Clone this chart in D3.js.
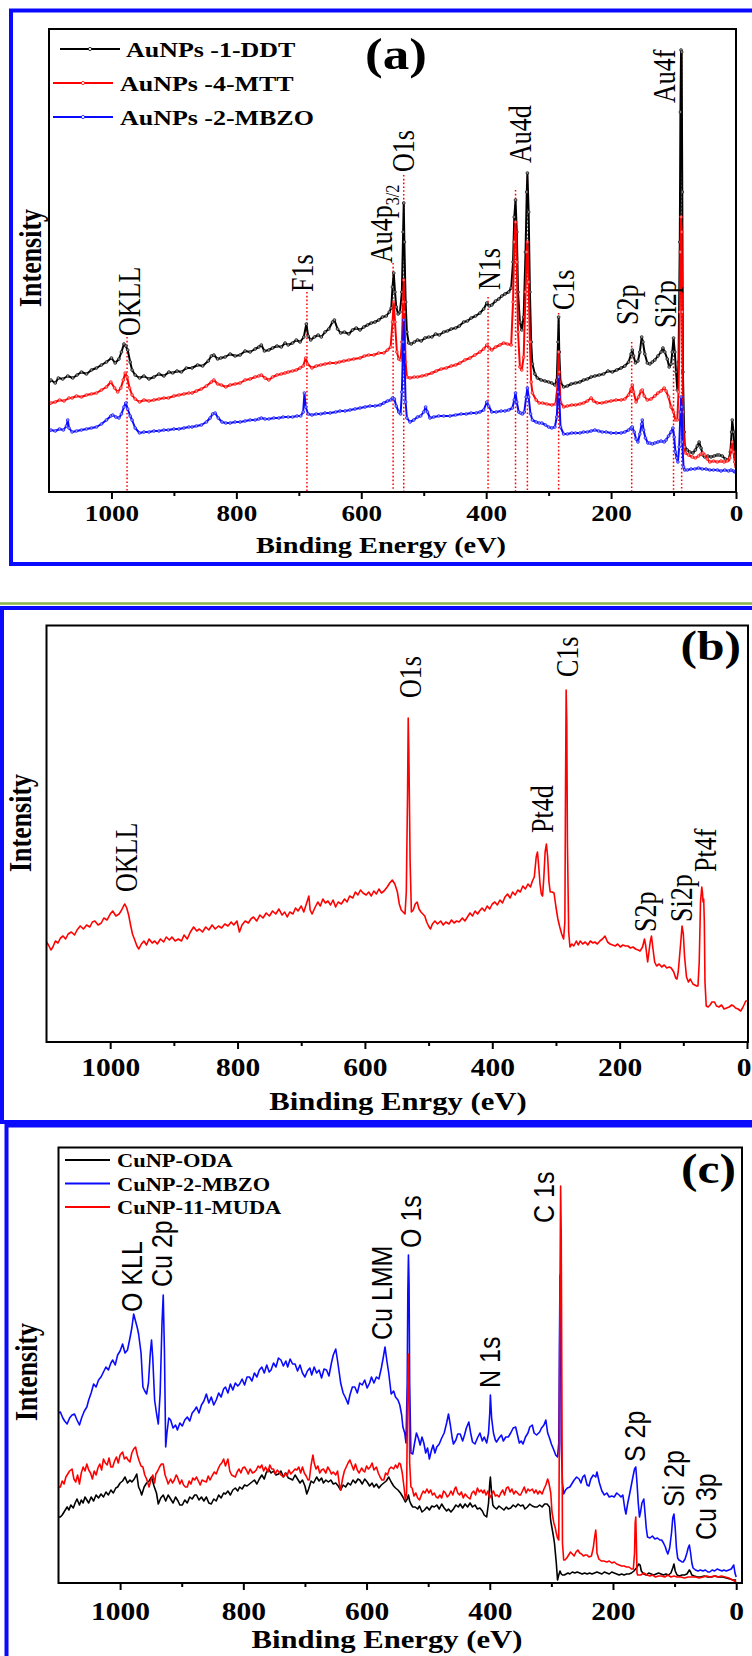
<!DOCTYPE html>
<html><head><meta charset="utf-8">
<script src="https://cdn.jsdelivr.net/npm/d3@7"></script>
<style>html,body{margin:0;padding:0;background:#fff;}svg{display:block;}</style>
</head><body>
<svg id="fig" width="752" height="1656"></svg>
<script>
// ---------- shared axis ticks (binding energy, eV) ----------
const majorTicks = [0, 200, 400, 600, 800, 1000];
const minorTicks = [100, 300, 500, 700, 900];

// ---------- panel (a): Au nanoparticle survey spectra ----------
const aSeriesNames = ["AuNPs -1-DDT", "AuNPs -4-MTT", "AuNPs -2-MBZO"];
const aDDT = [[1100,110],[1097,112],[1090,109],[1085,114],[1078,113],[1070,116],[1062,114],[1055,117],[1048,120],[1040,118],[1032,122],[1024,124],[1016,127],[1008,130],[1000,134],[994,129],[988,133],[984,140],[980,148],[977,146],[974,142],[970,130],[967,122],[962,117],[955,114],[948,116],[940,113],[932,115],[924,118],[916,116],[908,120],[902,119],[895,121],[888,120],[880,124],[871,124],[862,127],[854,126],[845,131],[840,136],[836,137],[830,133],[825,134],[818,135],[810,138],[802,136],[794,137],[786,141],[778,140],[770,143],[764,145],[760,147],[755,141],[748,142],[742,144],[735,146],[728,145],[722,149],[717,147],[710,149],[704,152],[698,150],[692,155],[688,168],[685,156],[681,152],[675,155],[669,157],[664,155],[658,160],[652,163],[646,170],[643,172],[638,163],[633,159],[627,160],[620,158],[614,162],[608,164],[602,162],[596,165],[590,167],[584,169],[578,170],[572,172],[566,175],[560,176],[555,180],[552,184],[550,205],[548,219],[546,200],[544,185],[541,178],[538,180],[535,200],[533,260],[532,289],[531,250],[529,190],[527,160],[524,149],[520,148],[515,150],[510,152],[504,151],[498,154],[492,155],[487,155],[481,158],[475,157],[468,160],[462,161],[456,163],[449,164],[443,166],[436,170],[430,171],[424,174],[417,176],[410,179],[404,183],[399,189],[395,186],[391,187],[385,191],[380,193],[375,196],[370,198],[364,200],[360,204],[357,230],[355,275],[353,292],[351,260],[349,200],[346,170],[343,162],[340,175],[337,240],[335,300],[334,319],[332,280],[330,200],[328,150],[326,128],[322,118],[318,114],[312,112],[306,111],[300,110],[295,109],[290,107],[287,112],[285,150],[284,175],[283,140],[281,110],[276,105],[270,106],[264,108],[257,109],[250,110],[244,112],[238,113],[232,115],[226,116],[219,117],[212,118],[205,121],[198,120],[191,122],[184,124],[178,126],[172,130],[168,138],[166,142],[164,136],[161,129],[157,131],[154,140],[151,155],[149,150],[146,138],[142,129],[138,128],[134,130],[130,132],[125,136],[120,140],[117,144],[114,140],[110,133],[107,125],[104,128],[102,140],[100,154],[98,140],[96,120],[94,102],[92,130],[90,250],[89,380],[88,442],[87,440],[86,300],[85,120],[83,60],[82,45],[78,42],[74,40],[69,39],[65,42],[62,46],[59,50],[56,44],[53,37],[50,35],[45,36],[40,35],[35,36],[30,37],[27,37],[22,36],[17,33],[12,32],[9,40],[7,60],[6,72],[4,60],[2,35],[0,27]];
const aMTT = [[1100,88],[1097,89],[1090,90],[1083,92],[1076,91],[1068,94],[1063,94],[1056,96],[1048,95],[1040,97],[1032,98],[1024,99],[1016,102],[1008,105],[1001,110],[995,104],[990,100],[985,104],[981,112],[978,119],[975,115],[971,104],[967,97],[962,93],[955,90],[948,92],[940,91],[932,92],[924,93],[916,94],[909,94],[900,96],[892,97],[884,98],[876,99],[871,99],[864,101],[856,103],[848,106],[840,110],[836,112],[830,108],[824,107],[817,105],[810,107],[802,108],[794,109],[786,112],[778,113],[770,115],[764,116],[760,117],[754,114],[748,112],[742,115],[735,117],[728,118],[722,119],[717,120],[710,121],[704,122],[698,124],[693,126],[689,134],[686,128],[679,124],[672,126],[665,127],[658,128],[650,129],[641,129],[635,130],[628,131],[620,132],[612,133],[602,134],[595,136],[588,137],[580,137],[572,139],[564,139],[558,142],[553,145],[550,170],[548,190],[546,170],[543,140],[540,133],[537,132],[535,150],[533,190],[532,212],[531,180],[529,130],[527,115],[522,114],[515,115],[510,115],[503,116],[496,117],[487,119],[480,121],[472,123],[464,124],[456,126],[449,127],[442,129],[434,132],[426,134],[418,137],[410,140],[404,143],[399,147],[395,144],[391,142],[385,145],[378,147],[372,149],[366,148],[360,147],[357,190],[355,250],[353,270],[351,230],[349,160],[346,125],[343,122],[340,135],[337,200],[335,240],[334,250],[332,210],[330,150],[328,110],[326,99],[320,92],[315,89],[310,89],[303,88],[295,87],[289,88],[286,105],[284,140],[283,120],[281,90],[276,85],[270,86],[263,87],[257,87],[250,88],[244,89],[238,91],[232,94],[228,91],[222,89],[215,89],[208,90],[200,91],[192,92],[184,92],[178,93],[172,97],[168,103],[166,107],[164,100],[160,90],[156,95],[152,101],[150,102],[147,96],[142,92],[136,93],[130,96],[125,99],[120,101],[115,104],[112,101],[108,95],[104,85],[100,80],[97,72],[94,72],[92,100],[90,180],[89,240],[88,275],[87,260],[86,180],[85,80],[83,45],[81,39],[76,37],[70,35],[65,34],[60,36],[56,38],[53,39],[50,37],[46,33],[42,30],[36,31],[30,30],[24,31],[19,30],[14,31],[10,34],[8,42],[6,50],[4,40],[2,30],[0,25]];
const aMBZO = [[1100,61],[1097,62],[1090,61],[1083,63],[1077,62],[1072,66],[1070,72],[1068,64],[1063,60],[1056,61],[1048,62],[1040,63],[1032,64],[1024,65],[1016,68],[1008,72],[1001,76],[998,77],[993,75],[988,74],[984,78],[980,85],[977,89],[974,83],[970,76],[967,72],[962,64],[955,59],[948,60],[940,60],[932,61],[924,61],[916,62],[909,62],[900,63],[892,63],[884,64],[876,65],[871,65],[864,66],[856,67],[848,70],[842,74],[838,78],[834,79],[829,74],[823,70],[817,69],[810,69],[802,70],[794,70],[786,71],[778,72],[770,72],[764,73],[760,74],[754,73],[748,73],[740,74],[732,74],[725,75],[717,75],[710,75],[703,76],[697,76],[693,80],[691,99],[689,85],[685,78],[679,77],[672,78],[665,78],[658,79],[650,79],[641,80],[634,81],[626,81],[618,82],[610,83],[602,84],[594,85],[586,86],[578,86],[570,87],[564,89],[558,91],[553,92],[550,94],[547,93],[544,86],[540,80],[537,78],[535,100],[533,150],[532,172],[531,140],[529,90],[527,74],[522,70],[516,72],[510,75],[505,76],[500,80],[497,85],[494,80],[490,74],[484,75],[476,76],[468,76],[458,76],[449,77],[440,78],[432,78],[424,79],[416,79],[410,80],[404,82],[399,90],[396,86],[391,80],[384,80],[376,81],[370,81],[364,82],[358,84],[355,92],[353,99],[351,90],[348,80],[345,79],[342,78],[339,80],[336,95],[334,104],[332,95],[329,78],[326,72],[320,70],[315,69],[311,69],[305,67],[300,65],[295,64],[290,65],[287,75],[285,100],[284,115],[283,95],[281,65],[276,58],[270,58],[263,59],[257,59],[250,59],[244,60],[238,60],[232,61],[226,62],[220,61],[214,60],[208,60],[200,59],[192,59],[184,59],[178,60],[172,62],[168,64],[166,65],[163,60],[160,53],[157,50],[154,58],[151,68],[150,72],[148,62],[145,54],[141,49],[138,49],[134,48],[130,49],[125,50],[120,51],[115,50],[112,52],[108,56],[104,60],[101,64],[99,55],[97,40],[95,34],[93,30],[91,45],[89,80],[88,95],[87,85],[86,50],[84,25],[82,22],[78,22],[72,23],[66,23],[60,24],[54,23],[48,23],[42,22],[36,22],[30,22],[24,21],[18,22],[12,21],[8,22],[4,21],[2,20],[0,20]];
// peak assignments: label text, energy of label centre, intensity where label starts
const aPeakLabels = [
  {text:"OKLL", ev:972, at:156}, {text:"F1s", ev:695, at:200},
  {text:"Au4p", sub:"3/2", ev:568, at:229}, {text:"O1s", ev:533, at:320},
  {text:"N1s", ev:395, at:202}, {text:"Au4d", ev:346, at:329},
  {text:"C1s", ev:276, at:182}, {text:"S2p", ev:174, at:167},
  {text:"Si2p", ev:114, at:164}, {text:"Au4f", ev:115, at:389}
];
// reference lines: energy, intensity where the line starts
const aPeakLines = [[975,155],[687,200],[549,229],[532,317],[397,195],[353,302],[334,319],[284,179],[167,150],[100,152],[87,442]];

// ---------- panel (b): Pt nanoparticle survey spectrum ----------
const bPt = [[1100,100],[1097,97],[1093,92],[1090,95],[1086,101],[1082,99],[1078,104],[1074,106],[1070,103],[1066,108],[1061,110],[1056,107],[1052,112],[1047,116],[1042,113],[1037,117],[1032,115],[1028,120],[1024,121],[1019,117],[1014,119],[1010,124],[1005,122],[1000,128],[996,131],[991,126],[986,128],[982,132],[979,136],[977,138],[974,134],[971,127],[968,117],[965,108],[962,103],[958,96],[955,93],[951,98],[947,101],[943,97],[939,103],[934,99],[930,101],[926,98],[921,103],[916,100],[912,105],[907,102],[903,105],[898,101],[893,103],[888,101],[884,107],[879,103],[874,110],[869,115],[864,111],[860,113],[855,110],[850,115],[845,112],[840,117],[835,113],[830,116],[825,114],[820,118],[815,116],[810,120],[806,117],[801,121],[797,110],[793,117],[788,121],[783,119],[779,123],[775,125],[770,121],[765,127],[760,124],[755,129],[750,126],[745,131],[740,128],[735,133],[730,127],[726,130],[722,125],[718,130],[713,128],[709,134],[705,131],[700,136],[696,130],[692,138],[688,146],[686,132],[683,128],[678,135],[674,140],[670,136],[666,143],[662,139],[658,141],[654,137],[650,142],[646,135],[642,140],[637,138],[632,143],[628,140],[624,146],[619,144],[615,150],[611,147],[607,152],[603,149],[598,147],[594,150],[590,146],[586,151],[582,148],[578,153],[574,149],[570,151],[565,155],[561,159],[557,162],[553,158],[549,150],[546,138],[543,132],[540,130],[537,128],[535,150],[533,250],[532,324],[531,290],[529,180],[527,130],[524,132],[521,138],[518,140],[515,133],[512,130],[509,128],[506,126],[503,120],[500,116],[497,113],[494,118],[490,121],[486,118],[481,121],[477,117],[473,120],[468,118],[464,122],[460,119],[456,121],[452,120],[447,124],[443,121],[439,125],[435,129],[431,126],[427,131],[423,128],[420,131],[416,134],[412,131],[408,136],[404,133],[400,138],[396,140],[392,137],[388,142],[384,139],[380,145],[376,148],[372,144],[368,150],[364,147],[360,152],[356,150],[352,156],[348,153],[344,158],[340,155],[337,161],[334,165],[331,185],[329,190],[327,175],[325,158],[323,148],[321,146],[319,165],[317,190],[315,198],[313,185],[311,160],[309,150],[306,150],[303,149],[300,135],[297,123],[294,115],[291,108],[288,103],[286,120],[285,250],[284,352],[283,320],[282,200],[280,110],[278,95],[275,98],[272,96],[268,101],[265,97],[262,101],[258,98],[254,100],[250,97],[246,101],[242,99],[239,100],[235,98],[231,101],[227,103],[223,106],[219,100],[215,98],[211,97],[207,96],[203,98],[199,95],[195,97],[191,96],[187,96],[183,94],[179,95],[175,93],[171,92],[168,91],[164,95],[161,103],[159,96],[157,85],[156,80],[154,90],[152,100],[150,106],[148,95],[145,80],[142,76],[138,78],[134,75],[130,77],[126,74],[122,75],[119,74],[115,70],[112,64],[110,63],[108,70],[104,100],[102,116],[100,108],[98,85],[95,65],[92,60],[89,63],[85,58],[82,57],[79,56],[77,56],[75,80],[73,140],[71,155],[70,150],[69,140],[68,143],[67,120],[66,60],[64,36],[61,35],[58,37],[55,40],[51,40],[48,36],[44,35],[40,37],[36,33],[32,34],[28,35],[24,37],[21,36],[18,34],[14,33],[10,31],[7,34],[4,38],[2,41],[0,41]];
const bPeakLabels = [
  {text:"OKLL", ev:974, at:150}, {text:"O1s", ev:528, at:344},
  {text:"Pt4d", ev:321, at:209}, {text:"C1s", ev:283, at:365},
  {text:"S2p", ev:159, at:110}, {text:"Si2p", ev:104, at:120},
  {text:"Pt4f", ev:65, at:170}
];

// ---------- panel (c): Cu nanoparticle survey spectra ----------
const cSeriesNames = ["CuNP-ODA", "CuNP-2-MBZO", "CuNP-11-MUDA"];
const cODA = [[1100,66],[1097,66],[1094,68],[1090,72],[1086,76],[1083,73],[1080,78],[1076,75],[1073,80],[1070,84],[1066,78],[1063,83],[1060,80],[1057,86],[1054,83],[1051,80],[1047,86],[1043,82],[1039,88],[1035,85],[1031,89],[1027,86],[1023,91],[1019,88],[1015,93],[1011,90],[1007,95],[1004,96],[1000,100],[996,102],[992,106],[988,100],[984,103],[981,101],[977,104],[973,109],[970,96],[967,92],[965,88],[961,96],[957,100],[953,102],[949,106],[945,97],[941,90],[938,79],[934,85],[930,88],[926,82],[922,88],[918,84],[914,80],[910,86],[906,82],[903,78],[899,78],[895,83],[891,80],[887,86],[883,84],[879,88],[876,88],[872,83],[868,86],[864,82],[860,86],[856,80],[852,79],[848,84],[844,82],[840,88],[836,85],[832,90],[829,89],[825,92],[821,88],[817,93],[813,95],[809,92],[806,96],[802,94],[798,98],[794,97],[790,99],[786,101],[782,103],[778,99],[774,104],[770,108],[766,104],[763,110],[759,114],[755,110],[751,112],[747,108],[743,109],[739,112],[735,106],[731,110],[727,105],[723,104],[720,103],[716,108],[712,104],[708,100],[704,103],[700,97],[697,89],[694,94],[690,102],[686,100],[681,106],[677,102],[673,105],[670,100],[666,103],[662,101],[658,103],[654,99],[650,100],[646,97],[642,93],[638,98],[634,96],[630,100],[626,98],[622,103],[618,100],[614,104],[611,103],[607,99],[603,104],[599,101],[595,97],[591,100],[588,96],[584,99],[580,95],[576,98],[572,100],[568,102],[564,106],[560,101],[556,97],[553,95],[549,93],[545,90],[541,86],[537,81],[534,84],[532,88],[530,82],[528,79],[525,76],[521,76],[517,74],[514,77],[510,71],[506,73],[502,76],[498,73],[494,77],[490,76],[486,78],[482,74],[478,79],[474,75],[470,72],[467,74],[463,71],[459,74],[455,78],[451,76],[448,79],[444,75],[440,79],[436,76],[432,80],[428,76],[424,78],[420,74],[416,75],[412,72],[409,68],[405,66],[402,80],[400,100],[399,106],[397,90],[395,78],[393,76],[389,74],[385,77],[381,75],[377,73],[373,76],[370,74],[366,75],[362,78],[358,76],[354,79],[350,77],[346,78],[343,74],[339,76],[335,79],[331,77],[327,76],[323,76],[319,78],[315,76],[311,79],[307,79],[303,76],[301,62],[299,55],[297,48],[295,40],[292,20],[290,3],[288,8],[286,12],[284,9],[282,8],[279,8],[276,9],[273,10],[270,9],[266,11],[262,10],[258,11],[254,10],[250,9],[246,10],[242,9],[238,10],[234,9],[230,10],[226,11],[222,10],[218,9],[214,11],[210,10],[206,9],[202,11],[198,10],[194,9],[190,8],[186,9],[182,8],[178,9],[174,9],[170,10],[166,12],[162,15],[158,19],[156,18],[154,12],[150,9],[146,8],[142,10],[138,9],[134,8],[130,9],[126,10],[122,9],[118,8],[114,9],[110,8],[106,10],[103,15],[101,19],[99,12],[96,8],[92,7],[88,8],[84,8],[80,9],[76,13],[74,11],[72,8],[68,7],[63,6],[58,6],[52,7],[46,6],[40,6],[34,7],[28,6],[22,6],[16,5],[10,4],[5,3],[2,3],[0,3]];
const cMBZO = [[1100,170],[1097,171],[1093,165],[1090,162],[1086,159],[1082,165],[1078,168],[1074,169],[1070,163],[1066,158],[1062,166],[1058,172],[1054,176],[1051,183],[1047,190],[1043,199],[1039,196],[1035,203],[1031,206],[1027,211],[1023,216],[1019,213],[1015,220],[1012,223],[1008,218],[1004,228],[1000,232],[996,239],[992,230],[988,233],[984,245],[981,255],[978,269],[975,262],[972,255],[970,249],[966,230],[963,196],[960,192],[957,189],[954,200],[951,230],[949,243],[947,225],[944,183],[941,170],[938,159],[935,190],[932,260],[930,288],[928,230],[926,136],[924,150],[921,165],[918,163],[914,155],[910,158],[907,153],[903,160],[899,157],[895,163],[891,166],[887,162],[883,170],[879,173],[876,176],[872,170],[868,178],[864,182],[860,189],[856,180],[852,186],[848,178],[844,183],[840,190],[836,186],[832,194],[829,196],[825,190],[821,199],[817,193],[813,200],[809,197],[806,199],[802,204],[798,198],[794,206],[790,206],[786,202],[782,210],[778,206],[774,213],[770,216],[766,210],[762,218],[758,211],[755,213],[751,220],[747,216],[743,225],[739,223],[735,217],[731,222],[728,216],[724,224],[720,219],[716,219],[712,212],[708,218],[704,210],[700,206],[696,212],[692,215],[689,208],[685,216],[681,210],[677,213],[673,205],[669,214],[665,213],[661,207],[657,220],[654,228],[650,234],[647,222],[644,209],[642,200],[638,190],[634,185],[630,179],[627,188],[623,196],[619,196],[615,190],[611,200],[607,198],[603,203],[599,195],[595,200],[592,206],[588,200],[584,206],[580,204],[576,215],[573,225],[570,236],[567,222],[564,210],[560,189],[556,192],[553,186],[549,183],[546,178],[543,168],[541,156],[538,150],[536,140],[534,200],[533,290],[532,328],[531,300],[530,200],[528,130],[525,129],[522,140],[519,150],[516,145],[513,138],[510,146],[507,140],[504,130],[501,135],[498,124],[495,132],[492,138],[489,130],[486,136],[482,139],[478,145],[474,150],[470,160],[467,169],[464,158],[461,145],[459,139],[455,143],[452,149],[448,149],[444,142],[441,148],[438,155],[434,161],[431,150],[428,141],[424,139],[420,145],[416,150],[412,142],[409,146],[405,140],[402,150],[400,170],[399,188],[397,165],[394,150],[391,143],[389,141],[385,145],[381,148],[378,142],[374,146],[370,146],[366,150],[362,155],[358,156],[355,148],[352,140],[349,142],[346,139],[342,146],[338,150],[335,156],[331,158],[328,150],[324,148],[319,151],[316,155],[312,158],[309,163],[306,150],[303,145],[300,139],[296,133],[293,128],[290,126],[288,140],[287,230],[286,308],[285,250],[284,140],[282,100],[280,89],[277,93],[274,95],[270,96],[266,100],[263,103],[259,106],[255,104],[252,100],[249,106],[246,108],[242,98],[239,97],[236,104],[232,108],[228,106],[226,111],[222,100],[218,92],[214,88],[210,90],[206,86],[202,87],[198,86],[194,90],[190,88],[187,86],[184,88],[181,75],[179,69],[176,80],[172,92],[168,105],[165,114],[163,116],[161,100],[159,80],[157,66],[155,72],[153,80],[150,84],[148,70],[146,55],[144,46],[140,45],[136,47],[132,44],[128,45],[124,43],[121,43],[118,40],[115,36],[113,32],[111,29],[108,35],[105,50],[103,65],[101,69],[99,55],[97,35],[95,25],[93,23],[90,22],[88,21],[86,21],[83,24],[80,30],[78,35],[76,38],[74,30],[72,20],[70,15],[66,13],[62,12],[58,13],[54,12],[50,13],[46,11],[43,11],[39,13],[35,12],[31,14],[27,13],[23,12],[20,13],[16,12],[12,13],[8,14],[5,17],[4,18],[2,10],[0,6]];
const cMUDA = [[1100,96],[1097,96],[1094,102],[1091,99],[1088,106],[1086,108],[1082,112],[1078,114],[1075,104],[1072,101],[1069,108],[1066,99],[1063,110],[1060,116],[1057,112],[1054,119],[1051,113],[1048,110],[1045,104],[1042,112],[1039,108],[1036,115],[1033,119],[1030,113],[1027,124],[1024,120],[1021,118],[1018,125],[1015,116],[1012,116],[1009,122],[1006,126],[1003,120],[1000,128],[996,131],[993,124],[990,126],[987,123],[984,121],[981,130],[978,134],[975,136],[972,128],[969,122],[966,117],[963,116],[960,108],[957,104],[953,96],[950,103],[947,108],[944,100],[942,109],[939,112],[936,116],[933,119],[930,119],[927,108],[924,103],[922,99],[918,104],[915,100],[912,103],[909,108],[907,106],[903,99],[900,103],[897,98],[894,96],[891,96],[888,102],[885,99],[882,105],[879,103],[876,106],[873,102],[870,98],[867,103],[864,102],[860,101],[857,107],[854,103],[850,108],[847,111],[844,109],[841,114],[838,118],[835,120],[832,124],[829,117],[825,124],[822,112],[819,108],[816,107],[813,106],[810,111],[807,114],[804,110],[801,115],[798,116],[795,113],[792,109],[789,114],[785,110],[782,111],[779,113],[776,117],[773,115],[770,118],[767,112],[764,116],[760,111],[757,118],[754,114],[751,114],[748,109],[745,113],[742,111],[739,108],[735,106],[732,110],[729,107],[726,113],[723,109],[720,111],[716,114],[713,113],[710,116],[707,110],[704,116],[701,110],[698,107],[695,103],[693,103],[690,118],[687,128],[685,120],[682,114],[679,117],[676,110],[673,113],[670,114],[666,110],[663,116],[660,113],[657,109],[654,111],[650,108],[647,112],[644,98],[642,93],[639,104],[636,112],[633,116],[630,120],[627,123],[624,118],[621,113],[618,119],[615,113],[612,110],[608,115],[605,112],[603,111],[600,117],[597,114],[594,116],[591,120],[588,113],[584,116],[581,110],[578,106],[575,103],[572,103],[569,110],[566,108],[563,114],[560,116],[556,114],[553,118],[550,115],[547,120],[545,119],[542,110],[539,95],[537,83],[535,90],[534,150],[533,200],[532,229],[531,200],[530,120],[528,96],[526,95],[523,87],[520,90],[517,85],[514,83],[511,88],[508,92],[505,90],[502,94],[499,90],[496,93],[493,88],[490,90],[487,86],[484,85],[481,88],[478,85],[475,92],[472,90],[469,86],[466,88],[463,92],[460,88],[457,94],[455,96],[452,90],[449,88],[446,91],[443,85],[440,89],[436,86],[432,84],[429,90],[426,92],[423,88],[420,95],[417,91],[414,93],[411,90],[409,93],[406,88],[403,92],[400,85],[397,89],[394,92],[391,87],[388,88],[385,86],[382,90],[379,93],[376,88],[373,95],[370,96],[367,91],[364,94],[361,89],[358,92],[355,90],[352,88],[350,88],[347,92],[344,96],[341,90],[338,94],[335,92],[331,94],[328,90],[325,93],[322,89],[319,92],[315,89],[312,94],[309,98],[306,104],[304,100],[301,90],[299,71],[296,60],[294,56],[292,50],[290,45],[288,43],[287,150],[286,300],[285,397],[284,350],[283,200],[282,40],[280,23],[278,23],[275,25],[272,28],[269,31],[266,29],[263,27],[260,31],[257,33],[254,30],[251,29],[248,27],[245,28],[242,28],[239,26],[235,27],[232,35],[230,45],[228,53],[227,45],[226,30],[223,24],[219,22],[215,22],[210,21],[206,22],[202,20],[198,21],[194,19],[190,18],[186,17],[182,17],[178,16],[174,16],[170,14],[167,14],[165,30],[164,60],[163,66],[162,40],[161,10],[160,8],[155,8],[150,10],[145,8],[140,7],[136,8],[131,6],[126,7],[121,7],[116,6],[111,8],[106,6],[101,7],[96,6],[90,6],[84,5],[78,6],[72,6],[66,6],[60,5],[54,6],[48,7],[42,6],[36,7],[30,6],[24,7],[18,6],[12,5],[6,3],[3,2],[0,1]];
const cPeakLabels = [
  {text:"O KLL", ev:981, at:271}, {text:"Cu 2p", ev:932, at:296},
  {text:"Cu LMM", ev:576, at:243}, {text:"O 1s", ev:528, at:335},
  {text:"N 1s", ev:400, at:195}, {text:"C 1s", ev:312, at:360},
  {text:"S 2p", ev:164, at:121}, {text:"Si 2p", ev:101, at:76},
  {text:"Cu 3p", ev:50, at:43}
];

// ---------- drawing ----------
const svg = d3.select("#fig");
const SERIF = "'Liberation Serif','Times New Roman',serif";
const SANS = "'Liberation Sans',Arial,sans-serif";
const SX = 1.18;          // lettering in this figure is set wide
const BLUE = "#0a0aff", RED = "#ff0000", BLACK = "#000";

svg.append("rect").attr("width", 752).attr("height", 1656).attr("fill", "#fff");

// generic text helper: x/y anchor, horizontal widening, optional rotation
function label(g, str, x, y, o = {}) {
  const t = g.append("text")
    .attr("transform", `translate(${x},${y}) scale(${o.sx || SX},1)` + (o.rot ? ` rotate(${o.rot})` : ""))
    .attr("font-family", o.family || SERIF)
    .attr("font-size", o.size || 20)
    .attr("font-weight", o.bold ? "bold" : "normal")
    .attr("text-anchor", o.anchor || "start")
    .attr("fill", o.fill || BLACK);
  if (o.dy) t.attr("dy", o.dy);
  t.text(str);
  return t;
}

function panel(p) {
  const g = svg.append("g");
  const x = d3.scaleLinear().domain([1100, 0]).range([p.left, p.x0]);
  const y = d3.scaleLinear().domain([0, p.ymax]).range([p.bottom, p.top]);
  const id = "clip" + p.key;
  svg.append("clipPath").attr("id", id).append("rect")
    .attr("x", p.left).attr("y", p.top).attr("width", p.right - p.left).attr("height", p.bottom - p.top);

  // minor + major ticks below the frame
  const minorAxis = d3.axisBottom(x).tickValues(minorTicks).tickSize(p.minorLen).tickFormat("");
  const majorAxis = d3.axisBottom(x).tickValues(majorTicks).tickSize(p.majorLen).tickFormat(d3.format("d"));
  const ga = g.append("g").attr("transform", `translate(0,${p.bottom})`);
  ga.call(minorAxis);
  const gb = g.append("g").attr("transform", `translate(0,${p.bottom})`).call(majorAxis);
  [ga, gb].forEach(s => { s.select(".domain").remove(); s.selectAll("line").attr("stroke", BLACK).attr("stroke-width", 2); });
  gb.selectAll("text")
    .attr("y", p.tickBase).attr("dy", 0)
    .attr("transform", `scale(${SX},1)`)
    .attr("font-family", SERIF).attr("font-weight", "bold").attr("font-size", p.tickSize).attr("fill", BLACK);
  // keep the last label inside the page when the zero tick sits at the edge
  if (p.clampLast) {
    gb.selectAll(".tick").filter(d => d === 0).select("text").attr("text-anchor", "end").attr("x", p.clampLast);
  }

  return {g, x, y, id};
}

function drawSpectrum(P, data, color, width, markers) {
  const line = d3.line().x(d => P.x(d[0])).y(d => P.y(d[1]));
  const gs = P.g.append("g").attr("clip-path", `url(#${P.id})`);
  gs.append("path").datum(data).attr("d", line).attr("fill", "none")
    .attr("stroke", color).attr("stroke-width", width).attr("stroke-linejoin", "round");
  if (markers) {
    gs.selectAll("circle").data(data).join("circle")
      .attr("cx", d => P.x(d[0])).attr("cy", d => P.y(d[1])).attr("r", 1.4)
      .attr("fill", "#fff").attr("fill-opacity", 0.55).attr("stroke", color).attr("stroke-width", 0.7);
  }
}

function frame(P, p) {
  P.g.append("rect").attr("x", p.left).attr("y", p.top)
    .attr("width", p.right - p.left).attr("height", p.bottom - p.top)
    .attr("fill", "none").attr("stroke", BLACK).attr("stroke-width", 2);
}

function peakLabels(P, list, o) {
  list.forEach(d => {
    const t = label(P.g, d.text, P.x(d.ev), P.y(d.at), {rot: -90, size: o.size, family: o.family, dy: "0.35em"});
    if (d.sub) t.append("tspan").attr("font-size", o.size * 0.62).attr("dy", "0.35em").text(d.sub);
  });
}

// ----- outer panel borders -----
const borders = svg.append("g").attr("stroke", BLUE).attr("stroke-width", 4).attr("fill", "none");
borders.append("path").attr("d", "M752,10.5 H11 V564 H752");
svg.append("line").attr("x1", 0).attr("x2", 752).attr("y1", 603.5).attr("y2", 603.5)
  .attr("stroke", "#8ab54b").attr("stroke-width", 2.5);
borders.append("path").attr("d", "M752,608 H2 V1122 H752");
borders.append("path").attr("d", "M752,1125.5 H6.5 V1656");

// ----- panel (a) -----
const pa = {key: "a", left: 49, x0: 736, right: 736, top: 29, bottom: 492, ymax: 463,
            majorLen: 7, minorLen: 4, tickBase: 29, tickSize: 23};
const A = panel(pa);
const dots = A.g.append("g").attr("stroke", RED).attr("stroke-width", 1.5).attr("stroke-dasharray", "1.6,2.2");
aPeakLines.forEach(d => dots.append("line").attr("x1", A.x(d[0])).attr("x2", A.x(d[0]))
  .attr("y1", A.y(d[1])).attr("y2", pa.bottom));
drawSpectrum(A, aDDT, BLACK, 2, true);
drawSpectrum(A, aMTT, RED, 2, true);
drawSpectrum(A, aMBZO, BLUE, 2, true);
frame(A, pa);
peakLabels(A, aPeakLabels, {size: 26, family: SERIF});
label(A.g, "(a)", 396, 69, {size: 45, bold: true, anchor: "middle"});
label(A.g, "Binding Energy (eV)", 381, 553, {size: 24, bold: true, anchor: "middle"});
label(A.g, "Intensity", 30, 258, {size: 26, bold: true, anchor: "middle", rot: -90, dy: "0.35em"});
const aLegend = [{c: BLACK, x1: 60, x2: 120, tx: 126, y: 49}, {c: RED, x1: 53, x2: 113, tx: 120, y: 83}, {c: BLUE, x1: 53, x2: 113, tx: 120, y: 117}];
aLegend.forEach((L, i) => {
  A.g.append("line").attr("x1", L.x1).attr("x2", L.x2).attr("y1", L.y).attr("y2", L.y).attr("stroke", L.c).attr("stroke-width", 2.2);
  A.g.append("circle").attr("cx", (L.x1 + L.x2) / 2).attr("cy", L.y).attr("r", 1.6).attr("fill", "#fff").attr("stroke", L.c).attr("stroke-width", 0.8);
  label(A.g, aSeriesNames[i], L.tx, L.y + 8, {size: 22, bold: true});
});

// ----- panel (b) -----
const pb = {key: "b", left: 46.5, x0: 747, right: 748, top: 625.5, bottom: 1042, ymax: 416.5,
            majorLen: 7, minorLen: 4, tickBase: 34, tickSize: 25, clampLast: 4 / SX};
const B = panel(pb);
drawSpectrum(B, bPt, RED, 1.6, false);
frame(B, pb);
peakLabels(B, bPeakLabels, {size: 26, family: SERIF});
label(B.g, "(b)", 741, 660, {size: 42, bold: true, anchor: "end"});
label(B.g, "Binding Enrgy (eV)", 398, 1110, {size: 26, bold: true, anchor: "middle"});
label(B.g, "Intensity", 20, 823, {size: 26, bold: true, anchor: "middle", rot: -90, dy: "0.35em"});

// ----- panel (c) -----
const pc = {key: "c", left: 58.5, x0: 736.2, right: 742, top: 1147.5, bottom: 1583, ymax: 435.5,
            majorLen: 7, minorLen: 4, tickBase: 37, tickSize: 25};
const C = panel(pc);
drawSpectrum(C, cODA, BLACK, 1.6, false);
drawSpectrum(C, cMBZO, BLUE, 1.6, false);
drawSpectrum(C, cMUDA, RED, 1.6, false);
frame(C, pc);
peakLabels(C, cPeakLabels, {size: 25, family: SANS});
label(C.g, "(c)", 736, 1183, {size: 42, bold: true, anchor: "end"});
label(C.g, "Binding Energy (eV)", 387, 1648, {size: 26, bold: true, anchor: "middle"});
label(C.g, "Intensity", 26, 1372, {size: 26, bold: true, anchor: "middle", rot: -90, dy: "0.35em"});
const cColors = [BLACK, BLUE, RED];
cSeriesNames.forEach((n, i) => {
  const yy = 1160 + i * 23.5;
  C.g.append("line").attr("x1", 65).attr("x2", 110).attr("y1", yy).attr("y2", yy).attr("stroke", cColors[i]).attr("stroke-width", 2);
  label(C.g, n, 117, yy + 7, {size: 19, bold: true});
});
</script>
</body></html>
